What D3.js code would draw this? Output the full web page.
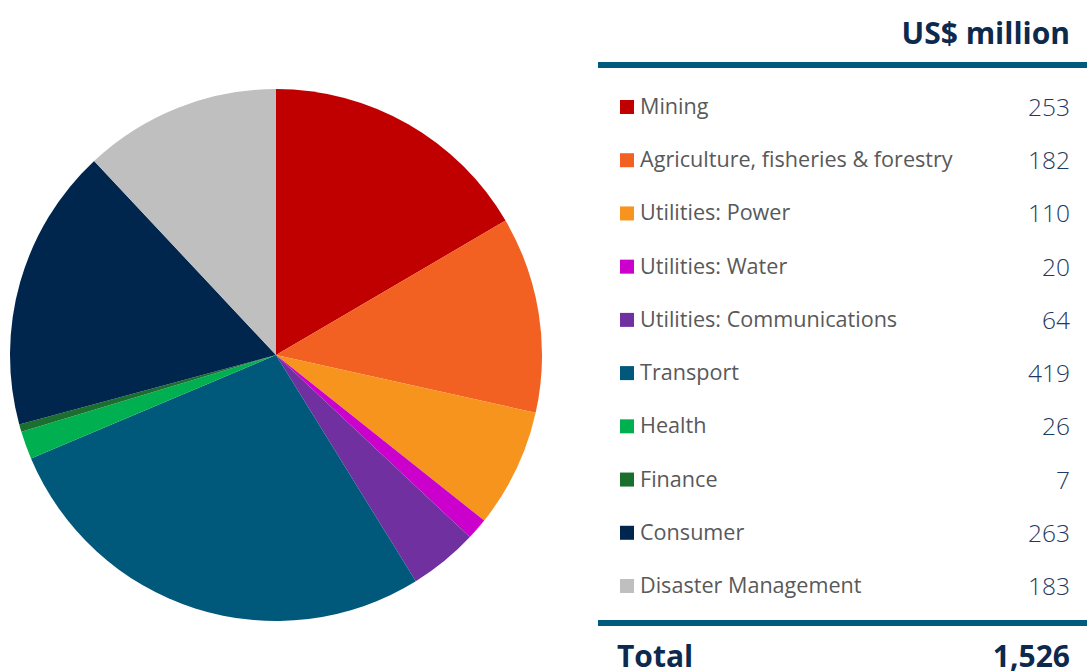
<!DOCTYPE html>
<html>
<head>
<meta charset="utf-8">
<script src="https://cdn.jsdelivr.net/npm/d3@7"></script>
<style>
  html, body { margin: 0; padding: 0; background: #ffffff; }
  svg { display: block; }
</style>
</head>
<body>
<svg id="chart" width="1087" height="672"></svg>
<script>
// Investment by sector, US$ million
const categories = [
  "Mining",
  "Agriculture, fisheries & forestry",
  "Utilities: Power",
  "Utilities: Water",
  "Utilities: Communications",
  "Transport",
  "Health",
  "Finance",
  "Consumer",
  "Disaster Management"
];
const values = [253, 182, 110, 20, 64, 419, 26, 7, 263, 183];
const colors = ["#c00000", "#f26122", "#f7941d", "#cc00cc", "#7030a0",
                "#00587a", "#00b050", "#1a6e2e", "#00264d", "#bfbfbf"];
const unitLabel = "US$ million";
const totalLabel = "Total";
const totalValue = "1,526";

const svg = d3.select("#chart");
const font = "'Open Sans', 'Noto Sans', sans-serif";

// Pie
const cx = 276, cy = 355, radius = 266;
const pie = d3.pie().sort(null).value(d => d.v);
const arc = d3.arc().innerRadius(0).outerRadius(radius);
const data = categories.map((c, i) => ({ c, v: values[i], col: colors[i] }));

svg.append("g")
  .attr("transform", `translate(${cx},${cy})`)
  .selectAll("path")
  .data(pie(data))
  .join("path")
  .attr("d", arc)
  .attr("fill", d => d.data.col);

// Table / legend
const left = 598, right = 1087, valueX = 1070;
svg.append("text")
  .attr("x", valueX).attr("y", 44)
  .attr("text-anchor", "end")
  .attr("font-family", font).attr("font-weight", 700)
  .attr("font-size", 30).attr("fill", "#0c2a4e")
  .text(unitLabel);

svg.append("rect")
  .attr("x", left).attr("y", 62).attr("width", right - left).attr("height", 6)
  .attr("fill", "#005a7c");

const rowY = d3.scalePoint().domain(categories).range([107, 586]);

const rows = svg.append("g").selectAll("g")
  .data(data)
  .join("g")
  .attr("transform", d => `translate(0,${rowY(d.c)})`);

rows.append("rect")
  .attr("x", 620).attr("y", -7).attr("width", 14).attr("height", 14)
  .attr("fill", d => d.col);

rows.append("text")
  .attr("x", 640).attr("y", 7)
  .attr("font-family", font).attr("font-size", 21.6)
  .attr("fill", "#595959")
  .text(d => d.c);

rows.append("text")
  .attr("x", valueX).attr("y", 9)
  .attr("text-anchor", "end")
  .attr("font-family", font).attr("font-weight", 300)
  .attr("font-size", 24.5)
  .attr("fill", "#1f3a5f")
  .text(d => d3.format(",")(d.v));

svg.append("rect")
  .attr("x", left).attr("y", 620).attr("width", right - left).attr("height", 6)
  .attr("fill", "#005a7c");

svg.append("text")
  .attr("x", 617).attr("y", 667)
  .attr("font-family", font).attr("font-weight", 700)
  .attr("font-size", 30).attr("fill", "#0c2a4e")
  .text(totalLabel);

svg.append("text")
  .attr("x", valueX).attr("y", 667)
  .attr("text-anchor", "end")
  .attr("font-family", font).attr("font-weight", 700)
  .attr("font-size", 30).attr("fill", "#0c2a4e")
  .text(totalValue);
</script>
</body>
</html>
